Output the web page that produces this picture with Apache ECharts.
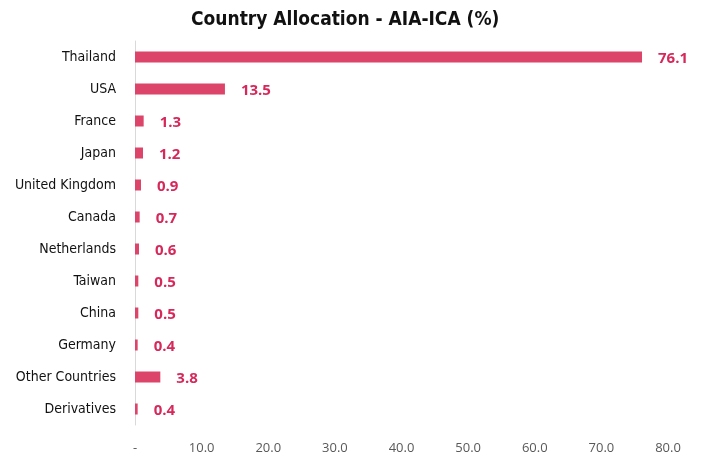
<!DOCTYPE html>
<html>
<head>
<meta charset="utf-8">
<script src="https://cdn.jsdelivr.net/npm/echarts@6/dist/echarts.min.js"></script>
<style>
  html, body { margin: 0; padding: 0; background: #fff; }
  #chart { width: 708px; height: 462px; }
</style>
</head>
<body>
<div id="chart"></div>
<script>
const countries = ['Thailand', 'USA', 'France', 'Japan', 'United Kingdom', 'Canada', 'Netherlands', 'Taiwan', 'China', 'Germany', 'Other Countries', 'Derivatives']
const allocation = [76.1, 13.5, 1.3, 1.2, 0.9, 0.7, 0.6, 0.5, 0.5, 0.4, 3.8, 0.4]

const narrow = "'Liberation Sans Narrow', 'DejaVu Sans Condensed', sans-serif"

const myChart = echarts.init(document.getElementById('chart'))
myChart.setOption({
  animation: false,
  title: {
    text: 'Country Allocation - AIA-ICA (%)',
    left: 186,
    top: 6,
    textStyle: {
      fontFamily: narrow,
      fontSize: 19,
      fontWeight: 'bold',
      color: '#111'
    }
  },
  grid: {
    left: 135,
    right: 40,
    top: 41,
    bottom: 37,
    containLabel: false
  },
  xAxis: {
    type: 'value',
    min: 0,
    max: 80,
    interval: 10,
    axisLine: { show: false },
    axisTick: { show: false },
    splitLine: { show: false },
    axisLabel: {
      margin: 17,
      color: '#595959',
      fontFamily: "'Open Sans', sans-serif",
      fontSize: 13,
      formatter: v => (v === 0 ? '-' : v.toFixed(1))
    }
  },
  yAxis: {
    type: 'category',
    inverse: true,
    data: countries,
    axisTick: { show: false },
    axisLine: {
      show: true,
      lineStyle: { color: '#d9d9d9', width: 1 }
    },
    axisLabel: {
      margin: 19,
      color: '#111',
      fontFamily: narrow,
      fontSize: 14
    }
  },
  series: [
    {
      type: 'bar',
      barWidth: 11,
      itemStyle: { color: '#dc4469' },
      label: {
        show: true,
        position: 'right',
        distance: 16,
        offset: [0, 2],
        color: '#d6285a',
        fontFamily: "'Open Sans', sans-serif",
        fontWeight: 'bold',
        fontSize: 15,
        formatter: p => p.value.toFixed(1)
      },
      data: allocation
    }
  ]
})
</script>
</body>
</html>
